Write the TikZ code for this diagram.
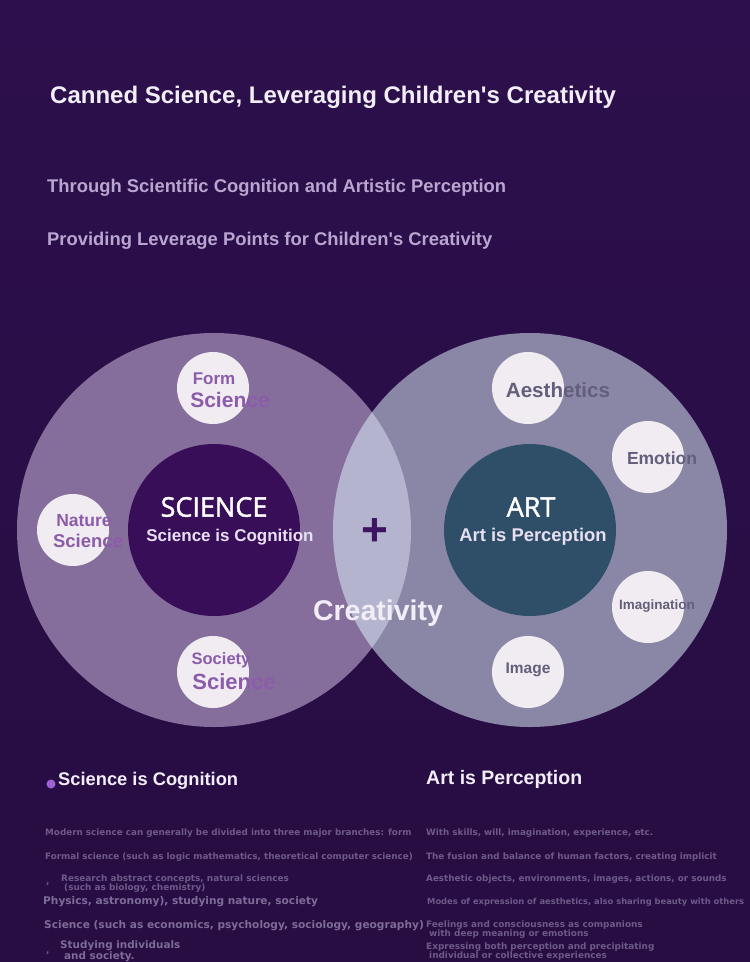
\documentclass[tikz,border=0pt]{standalone}
\usepackage{fontspec}
\setmainfont{Liberation Sans}
\newfontfamily\bodyfont{DejaVu Sans}
\newfontfamily\capfont[FakeBold=1.6]{Open Sans}
\definecolor{bgtop}{RGB}{44,15,76}
\definecolor{bgmid}{RGB}{52,12,92}
\definecolor{bgbot}{RGB}{39,13,66}
\definecolor{leftring}{RGB}{134,110,156}
\definecolor{rightring}{RGB}{138,135,166}
\definecolor{lenscol}{RGB}{180,180,206}
\definecolor{scicore}{RGB}{56,14,88}
\definecolor{artcore}{RGB}{46,79,103}
\definecolor{bubblecol}{RGB}{240,236,241}
\definecolor{scitext}{RGB}{140,92,171}
\definecolor{arttext}{RGB}{100,94,125}
\definecolor{titletext}{RGB}{242,238,247}
\definecolor{subtext}{RGB}{185,166,208}
\definecolor{coretext}{RGB}{232,224,242}
\definecolor{bodytext}{RGB}{110,90,136}
\definecolor{bodybright}{RGB}{126,108,152}
\definecolor{plusc}{RGB}{62,20,98}
\definecolor{dotc}{RGB}{160,96,214}
\newcommand{\fsz}[1]{\fontsize{#1}{#1}\selectfont}
\newcommand{\apo}{\textquotesingle}
\tikzset{
  bigring/.style={circle,inner sep=0pt,minimum size=394pt},
  core/.style={circle,inner sep=0pt,minimum size=172pt},
  bubble/.style={circle,inner sep=0pt,minimum size=72pt,fill=bubblecol},
  lbl/.style={inner sep=0pt,font=\bfseries},
  scilbl/.style={lbl,text=scitext},
  artlbl/.style={lbl,text=arttext},
  bodyl/.style={inner sep=0pt,anchor=west,text=bodytext},
  bodyb/.style={inner sep=0pt,anchor=west,text=bodybright},
}
\begin{document}
\begin{tikzpicture}[x=1pt,y=-1pt]
\useasboundingbox (0,0) rectangle (750,962);
\clip (0,0) rectangle (750,962);
\shade[top color=bgtop,middle color=bgmid,bottom color=bgbot] (0,0) rectangle (750,962);

% title and subtitles
\node[lbl,anchor=west,text=titletext,font=\bfseries\fsz{24}] (title) at (50,97) {Canned Science, Leveraging Children\apo s Creativity};
\node[lbl,anchor=west,text=subtext,font=\bfseries\fsz{18.4}] (sub1) at (47,188) {Through Scientific Cognition and Artistic Perception};
\node[lbl,anchor=west,text=subtext,font=\bfseries\fsz{18.4}] (sub2) at (47,241) {Providing Leverage Points for Children\apo s Creativity};

% big rings
\node[bigring,fill=leftring] (sciring) at (214,530) {};
\node[bigring,fill=rightring] (artring) at (530,530) {};
\begin{scope}
  \clip (sciring.center) circle (197pt);
  \fill[lenscol] (artring.center) circle (197pt);
\end{scope}

% cores
\node[core,fill=scicore] (scicore) at (214,530) {};
\node[core,fill=artcore] (artcore) at (530,530) {};
\node[inner sep=0pt,text=white,font=\capfont\fsz{27}] (scititle) at (214,507) {SCIENCE};
\node[lbl,text=coretext,font=\bfseries\fsz{17}] (scisub) at (230,537) {Science is Cognition};
\node[inner sep=0pt,text=white,font=\capfont\fsz{27}] (arttitle) at (531,507) {ART};
\node[lbl,text=coretext,font=\bfseries\fsz{18.4}] (artsub) at (533,537) {Art is Perception};

% plus and creativity
\node[inner sep=0pt,text=plusc,font=\bfseries\fsz{46}] (plus) at (375,532) {+};
\node[lbl,text=titletext,font=\bfseries\fsz{28.5}] (creat) at (378,613) {Creativity};

% science bubbles
\node[bubble] (formb) at (213,388) {};
\node[scilbl,font=\bfseries\fsz{17}] (formA) at (214,379) {Form};
\node[scilbl,font=\bfseries\fsz{21}] (formB) at (230,400) {Science};
\node[bubble] (natb) at (73,530) {};
\node[scilbl,font=\bfseries\fsz{17.5}] (natA) at (84,521) {Nature};
\node[scilbl,font=\bfseries\fsz{18.5}] (natB) at (88,541) {Science};
\node[bubble] (socb) at (213,672) {};
\node[scilbl,font=\bfseries\fsz{16.5}] (socA) at (221,660) {Society};
\node[scilbl,font=\bfseries\fsz{22}] (socB) at (234,682) {Science};

% art bubbles
\node[bubble] (aesb) at (528,388) {};
\node[artlbl,font=\bfseries\fsz{20.6}] (aesA) at (558,390) {Aesthetics};
\node[bubble] (emob) at (648,457) {};
\node[artlbl,font=\bfseries\fsz{17.5}] (emoA) at (662,458) {Emotion};
\node[bubble] (imab) at (648,607) {};
\node[artlbl,font=\bfseries\fsz{13.5}] (imaA) at (657,606) {Imagination};
\node[bubble] (imgb) at (528,672) {};
\node[artlbl,font=\bfseries\fsz{15.5}] (imgA) at (528,670) {Image};

% bottom headings
\node[circle,inner sep=0pt,minimum size=9pt,fill=dotc] (dot) at (51,784) {};
\node[lbl,anchor=west,text=titletext,font=\bfseries\fsz{18.3}] (lhead) at (58,781) {Science is Cognition};
\node[lbl,anchor=west,text=titletext,font=\bfseries\fsz{19.5}] (rhead) at (426,779) {Art is Perception};

% left body
\node[bodyl,font=\bodyfont\bfseries\fsz{8.8}] (l1) at (45,833) {Modern science can generally be divided into three major branches: form};
\node[bodyl,font=\bodyfont\bfseries\fsz{8.8}] (l2) at (45,857) {Formal science (such as logic mathematics, theoretical computer science)};
\node[bodyl,font=\bodyfont\bfseries\fsz{8.8}] (l3c) at (46,884) {,};
\node[bodyl,font=\bodyfont\bfseries\fsz{8.9}] (l3a) at (61,879) {Research abstract concepts, natural sciences};
\node[bodyl,font=\bodyfont\bfseries\fsz{8.9}] (l3b) at (64,888) {(such as biology, chemistry)};
\node[bodyb,font=\bodyfont\bfseries\fsz{10.6}] (l4) at (43,902) {Physics, astronomy), studying nature, society};
\node[bodyb,font=\bodyfont\bfseries\fsz{10.6}] (l5) at (44,926) {Science (such as economics, psychology, sociology, geography)};
\node[bodyl,font=\bodyfont\bfseries\fsz{8.8}] (l6c) at (46,953) {,};
\node[bodyb,font=\bodyfont\bfseries\fsz{10.4}] (l6a) at (60,946) {Studying individuals};
\node[bodyb,font=\bodyfont\bfseries\fsz{10.4}] (l6b) at (64,957) {and society.};

% right body
\node[bodyl,font=\bodyfont\bfseries\fsz{8.8}] (r1) at (426,833) {With skills, will, imagination, experience, etc.};
\node[bodyl,font=\bodyfont\bfseries\fsz{8.8}] (r2) at (426,857) {The fusion and balance of human factors, creating implicit};
\node[bodyl,font=\bodyfont\bfseries\fsz{8.8}] (r3) at (426,879) {Aesthetic objects, environments, images, actions, or sounds};
\node[bodyl,font=\bodyfont\bfseries\fsz{8.35}] (r4) at (427,902) {Modes of expression of aesthetics, also sharing beauty with others};
\node[bodyl,font=\bodyfont\bfseries\fsz{8.9}] (r5a) at (426,925) {Feelings and consciousness as companions};
\node[bodyl,font=\bodyfont\bfseries\fsz{8.9}] (r5b) at (429,934) {with deep meaning or emotions};
\node[bodyl,font=\bodyfont\bfseries\fsz{8.9}] (r6a) at (426,947) {Expressing both perception and precipitating};
\node[bodyl,font=\bodyfont\bfseries\fsz{8.9}] (r6b) at (429,956) {individual or collective experiences};
\end{tikzpicture}
\end{document}
